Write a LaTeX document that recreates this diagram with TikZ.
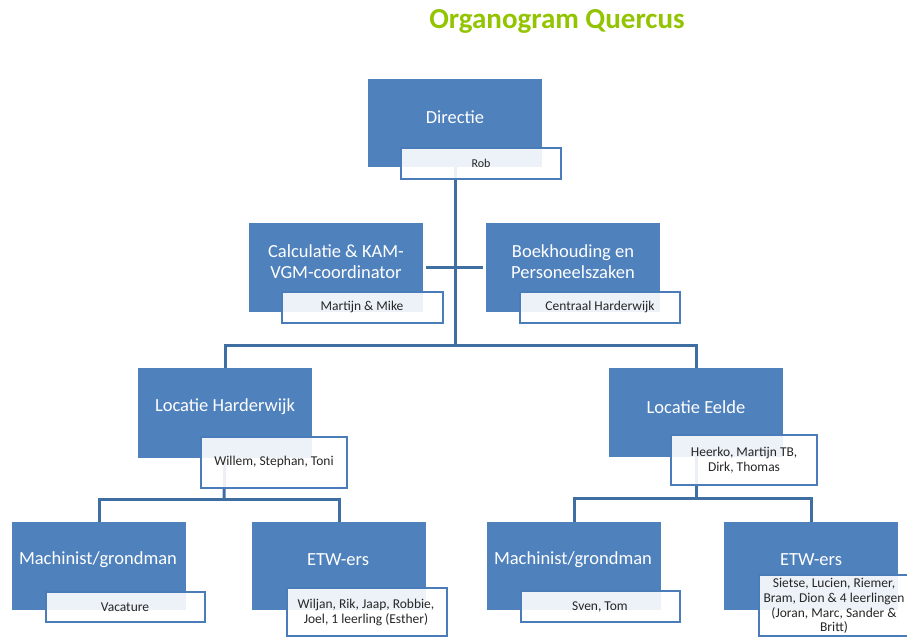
\documentclass[tikz,border=0pt]{standalone}
\usepackage{fontspec}
\setmainfont{Carlito}
\definecolor{obl}{RGB}{79,129,189}
\definecolor{lnc}{RGB}{62,110,162}
\definecolor{ttl}{RGB}{146,196,0}
\definecolor{wbd}{RGB}{74,124,186}
\tikzset{
 bluebox/.style={fill=obl, draw=none, anchor=north west, minimum width=174pt, minimum height=88pt, inner sep=0pt, outer sep=0pt},
 namebox/.style={fill=white, fill opacity=0.9, draw=wbd, line width=2.5pt, anchor=north west, minimum height=31pt, minimum width=160pt, inner sep=0pt, outer sep=0pt},
 btext/.style={text=white, font=\fontsize{18.5}{21}\selectfont, align=center, inner sep=0pt},
 stext/.style={text=black!85, font=\fontsize{13.5}{14.5}\selectfont, align=center, inner sep=0pt},
 conn/.style={draw=lnc, line width=3pt},
 titletext/.style={text=ttl, font=\fontsize{29}{32}\selectfont\bfseries, inner sep=0pt}
}
\begin{document}
\begin{tikzpicture}[x=1pt,y=-1pt]
\useasboundingbox (0,0) rectangle (907,637);
\clip (0,0) rectangle (907,637);
\fill[white] (0,0) rectangle (907,637);

\node[titletext] (title) at (557,21) {Organogram Quercus};

% junction points of the connectors
\coordinate (top) at (455,345);
\coordinate (hj) at (224,499);
\coordinate (ej) at (696,498);

% blue boxes
\node[bluebox] (dir) at (368,79) {};
\node[bluebox, minimum height=89pt] (calc) at (249,223) {};
\node[bluebox, minimum height=89pt] (boek) at (486,223) {};
\node[bluebox, minimum height=90pt] (lh) at (138,368) {};
\node[bluebox, minimum height=89pt] (le) at (609,368) {};
\node[bluebox] (mh) at (12,522) {};
\node[bluebox] (eh) at (252,522) {};
\node[bluebox] (mr) at (487,522) {};
\node[bluebox] (er) at (724,522) {};

% connectors
\draw[conn] (dir.south) -- (top);
\draw[conn] (lh.north) |- (top) -| (le.north);
\draw[conn, shorten <=3pt, shorten >=3pt] (calc.east) -- (boek.west);
\draw[conn] (lh.south) -- (hj);
\draw[conn] (mh.north) |- (hj) -| (eh.north);
\draw[conn] (le.south) -- (ej);
\draw[conn] (mr.north) |- (ej) -| (er.north);

% name boxes
\node[namebox] (rob) at (401,148) {};
\node[namebox, minimum width=161pt] (mm) at (282,292) {};
\node[namebox] (ch) at (520,292) {};
\node[namebox, minimum width=146pt, minimum height=51pt] (wst) at (201,437) {};
\node[namebox, minimum width=146pt, minimum height=50pt] (hee) at (671,435) {};
\node[namebox, minimum width=159pt, minimum height=30pt] (vac) at (46,592) {};
\node[namebox, minimum height=48pt] (wil) at (287,588) {};
\node[namebox, minimum width=159pt] (sven) at (521,591) {};
\node[namebox, minimum height=61pt] (sie) at (759,575) {};

% texts
\node[btext] (tdir) at (455,117) {Directie};
\node[btext] (tcalc) at (336,261.5) {Calculatie \& KAM-\\VGM-coordinator};
\node[btext] (tboek) at (573,261.5) {Boekhouding en\\Personeelszaken};
\node[btext] (tlh) at (225,407) {Locatie Harderwijk};
\node[btext] (tle) at (696,407) {Locatie Eelde};
\node[btext] (tmh) at (98,560) {Machinist/grondman};
\node[btext] (teh) at (338,560) {ETW-ers};
\node[btext] (tmr) at (573,560) {Machinist/grondman};
\node[btext] (ter) at (811,560) {ETW-ers};

\node[stext, font=\fontsize{12}{13}\selectfont] (trob) at (481,163.5) {Rob};
\node[stext] (tmm) at (362,307) {Martijn \& Mike};
\node[stext] (tch) at (600,307) {Centraal Harderwijk};
\node[stext] (twst) at (274,462) {Willem, Stephan, Toni};
\node[stext] (thee) at (744,460) {Heerko, Martijn TB,\\Dirk, Thomas};
\node[stext] (tvac) at (125,607) {Vacature};
\node[stext] (twil) at (366,612.5) {Wiljan, Rik, Jaap, Robbie,\\Joel, 1 leerling (Esther)};
\node[stext] (tsven) at (600,607) {Sven, Tom};
\node[stext, font=\fontsize{13.5}{14.7}\selectfont] (tsie) at (834,606) {Sietse, Lucien, Riemer,\\Bram, Dion \& 4 leerlingen\\(Joran, Marc, Sander \&\\Britt)};
\end{tikzpicture}
\end{document}
